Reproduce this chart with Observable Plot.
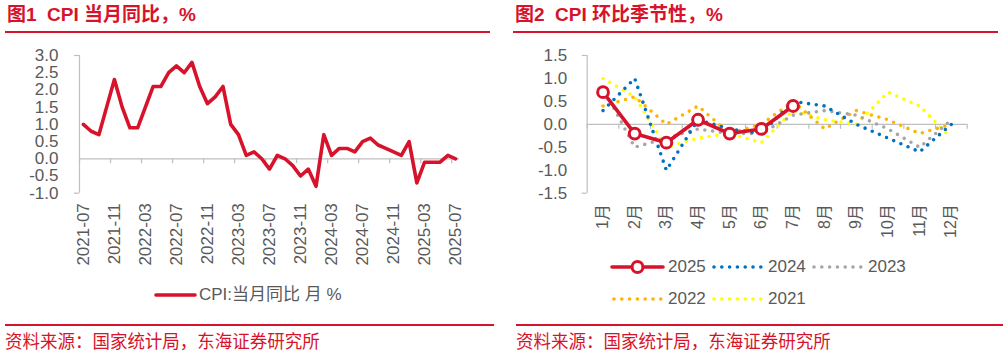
<!DOCTYPE html>
<html><head><meta charset="utf-8">
<script src="https://cdn.jsdelivr.net/npm/d3@7"></script>
<script src="https://cdn.jsdelivr.net/npm/@observablehq/plot@0.6"></script>
<style>
body{margin:0;background:#fff;}
#root{position:relative;width:1007px;height:354px;overflow:hidden;font-family:"Liberation Sans","Noto Sans CJK SC",sans-serif;}
.chart{position:absolute;top:0;}
.title{position:absolute;top:5px;line-height:20px;font-size:19px;font-weight:bold;color:#d7132b;white-space:pre;z-index:2;}
.hline{position:absolute;height:1.6px;background:#d7132b;z-index:2;}
.src{position:absolute;top:330px;line-height:20px;font-size:18.5px;color:#d7132b;white-space:pre;z-index:2;font-family:"Noto Sans CJK SC",sans-serif;transform:scaleX(0.945);transform-origin:0 50%;}
.legtxt{position:absolute;line-height:20px;font-size:17px;color:#595959;white-space:pre;z-index:2;}
.sw{position:absolute;z-index:2;overflow:visible;}
</style></head>
<body><div id="root"></div>
<script>
// ---------- data ----------
const cpiMonths = d3.utcMonths(new Date(Date.UTC(2021,6,1)), new Date(Date.UTC(2025,7,1))).map(d3.utcFormat("%Y-%m"));
const cpiYoY = [1.0,0.8,0.7,1.5,2.3,1.5,
  0.9,0.9,1.5,2.1,2.1,2.5,2.7,2.5,2.8,2.1,1.6,1.8,
  2.1,1.0,0.7,0.1,0.2,0.0,-0.3,0.1,0.0,-0.2,-0.5,-0.3,
  -0.8,0.7,0.1,0.3,0.3,0.2,0.5,0.6,0.4,0.3,0.2,0.1,
  0.5,-0.7,-0.1,-0.1,-0.1,0.1,0.0];
const leftTickLabels = ["2021-07","2021-11","2022-03","2022-07","2022-11","2023-03","2023-07","2023-11","2024-03","2024-07","2024-11","2025-03","2025-07"];
const leftYTicks = [-1,-0.5,0,0.5,1,1.5,2,2.5,3];

const monthLabels = ["1月","2月","3月","4月","5月","6月","7月","8月","9月","10月","11月","12月"];
const mom2025 = [0.7,-0.2,-0.4,0.1,-0.2,-0.1,0.4];
const mom2024 = [0.3,1.0,-1.0,0.1,-0.1,-0.2,0.5,0.4,0.0,-0.3,-0.6,0.0];
const mom2023 = [0.8,-0.5,-0.3,-0.1,-0.2,-0.2,0.2,0.3,0.2,-0.1,-0.5,0.1];
const mom2022 = [0.4,0.6,0.0,0.4,-0.2,0.0,0.5,-0.1,0.3,0.1,-0.2,0.0];
const mom2021 = [1.0,0.6,-0.5,-0.3,-0.2,-0.4,0.3,0.1,0.0,0.7,0.4,-0.3];
const rightYTicks = [-1.5,-1,-0.5,0,0.5,1,1.5];
const seriesNames = ["2025","2024","2023","2022","2021"];

// ---------- styles ----------
const RED="#d7132b", BLUE="#0070c0", GRAY="#a6a6a6", ORANGE="#ffb400", YELLOW="#ffff00", AX="#bfbfbf";
const DOT="0 7.8";
const root = document.getElementById("root");
const baseStyle = {fontFamily:"Liberation Sans, Noto Sans CJK SC, sans-serif", fontSize:"17px", color:"#595959", background:"transparent", overflow:"visible"};

// ---------- left chart ----------
const labelIdxL = leftTickLabels.map(l=>cpiMonths.indexOf(l));
const boundsL = [-0.5, ...labelIdxL.slice(1).map(i=>i-0.5)];
const left = Plot.plot({
  width:500, height:290, marginTop:55, marginBottom:97.3, marginLeft:79, marginRight:41,
  style: baseStyle,
  x:{type:"linear", domain:[-0.5, cpiYoY.length-0.5]},
  y:{domain:[-1,3]},
  marks:[
    Plot.ruleX([-0.5],{y1:-1,y2:3,stroke:AX,strokeWidth:1.2}),
    Plot.ruleY([-1,3],{x1:-0.5,x2:-0.5,insetLeft:-5,stroke:AX,strokeWidth:1.2}),
    Plot.ruleY([0],{x1:-0.5,x2:cpiYoY.length-0.5,stroke:AX,strokeWidth:1.2}),
    Plot.ruleX(boundsL,{y1:0,y2:0,insetBottom:-5,stroke:AX,strokeWidth:1.2}),
    Plot.axisY({ticks:leftYTicks,tickSize:0,tickPadding:21,tickFormat:d=>d.toFixed(1),fontSize:17}),
    Plot.axisX({ticks:labelIdxL,tickSize:0,tickPadding:10,tickRotate:-90,tickFormat:i=>cpiMonths[i],fontSize:17}),
    Plot.line(cpiYoY,{x:(d,i)=>i,y:d=>d,stroke:RED,strokeWidth:3.6,strokeLinejoin:"round",strokeLinecap:"round"})
  ]
});
left.classList.add("chart"); left.style.left="0px";
root.appendChild(left);

// ---------- right chart ----------
const boundsR = d3.range(monthLabels.length+1).map(i=>i-0.5);
const dotted = (arr,color)=>Plot.line(arr,{x:(d,i)=>i,y:d=>d,stroke:color,strokeWidth:3.6,strokeDasharray:DOT,strokeLinecap:"round",strokeLinejoin:"round"});
const right = Plot.plot({
  width:507, height:290, marginTop:55, marginBottom:97.3, marginLeft:86.7, marginRight:40.3,
  style: baseStyle,
  x:{type:"linear", domain:[-0.5, monthLabels.length-0.5]},
  y:{domain:[-1.5,1.5]},
  marks:[
    Plot.ruleX([-0.5],{y1:-1.5,y2:1.5,stroke:AX,strokeWidth:1.2}),
    Plot.ruleY([-1.5,1.5],{x1:-0.5,x2:-0.5,insetLeft:-5,stroke:AX,strokeWidth:1.2}),
    Plot.ruleY([0],{x1:-0.5,x2:monthLabels.length-0.5,stroke:AX,strokeWidth:1.2}),
    Plot.ruleX(boundsR,{y1:0,y2:0,insetBottom:-5,stroke:AX,strokeWidth:1.2}),
    Plot.axisY({ticks:rightYTicks,tickSize:0,tickPadding:20,tickFormat:d=>d.toFixed(1),fontSize:17}),
    Plot.axisX({ticks:d3.range(monthLabels.length),tickSize:0,tickPadding:11,tickRotate:-90,tickFormat:i=>monthLabels[i],fontSize:16}),
    dotted(mom2021,YELLOW),
    dotted(mom2022,ORANGE),
    dotted(mom2023,GRAY),
    dotted(mom2024,BLUE),
    Plot.line(mom2025,{x:(d,i)=>i,y:d=>d,stroke:RED,strokeWidth:3.6,strokeLinejoin:"round"}),
    Plot.dot(mom2025,{x:(d,i)=>i,y:d=>d,r:5.4,fill:"white",stroke:RED,strokeWidth:3})
  ]
});
right.classList.add("chart"); right.style.left="500px";
root.appendChild(right);

// ---------- titles, rules, sources ----------
function el(tag, cls, css, text){const e=document.createElement(tag); if(cls) e.className=cls; Object.assign(e.style,css); if(text!=null) e.textContent=text; root.appendChild(e); return e;}
el("div","title",{left:"7px"},"图1  CPI 当月同比，%");
el("div","title",{left:"515px"},"图2  CPI 环比季节性，%");
el("div","hline",{left:"5px",width:"485px",top:"31px"});
el("div","hline",{left:"513px",width:"485px",top:"31px"});
el("div","hline",{left:"5px",width:"489px",top:"324px"});
el("div","hline",{left:"516px",width:"487px",top:"324px"});
el("div","src",{left:"5px"},"资料来源：国家统计局，东海证券研究所");
el("div","src",{left:"516px"},"资料来源：国家统计局，东海证券研究所");

// ---------- legends ----------
const NS="http://www.w3.org/2000/svg";
function swatch(x, y, kind, color){
  const s=document.createElementNS(NS,"svg"); s.setAttribute("class","sw");
  s.setAttribute("width","52"); s.setAttribute("height","16");
  s.style.left=x+"px"; s.style.top=(y-8)+"px";
  const ln=document.createElementNS(NS,"line");
  ln.setAttribute("x1", kind==="dot"?2:0); ln.setAttribute("x2", kind==="dot"?50:(kind==="plain"?39:51));
  ln.setAttribute("y1",8); ln.setAttribute("y2",8);
  ln.setAttribute("stroke",color); ln.setAttribute("stroke-width",3.6); ln.setAttribute("stroke-linecap","round");
  if(kind==="dot") ln.setAttribute("stroke-dasharray",DOT);
  s.appendChild(ln);
  if(kind==="marker"){const c=document.createElementNS(NS,"circle"); c.setAttribute("cx",25.5); c.setAttribute("cy",8); c.setAttribute("r",5.4); c.setAttribute("fill","white"); c.setAttribute("stroke",color); c.setAttribute("stroke-width",3); s.appendChild(c);}
  root.appendChild(s);
}
swatch(156,295,"plain",RED);
el("div","legtxt",{left:"199px",top:"285px"},"CPI:当月同比 月 %");

const legColors=[RED,BLUE,GRAY,ORANGE,YELLOW];
const legPos=[[612,267],[712,267],[812,267],[612,299],[712,299]];
seriesNames.forEach((n,k)=>{
  const [x,y]=legPos[k];
  swatch(x,y,k===0?"marker":"dot",legColors[k]);
  el("div","legtxt",{left:(x+56)+"px",top:(y-10)+"px"},n);
});
</script>
</body></html>
